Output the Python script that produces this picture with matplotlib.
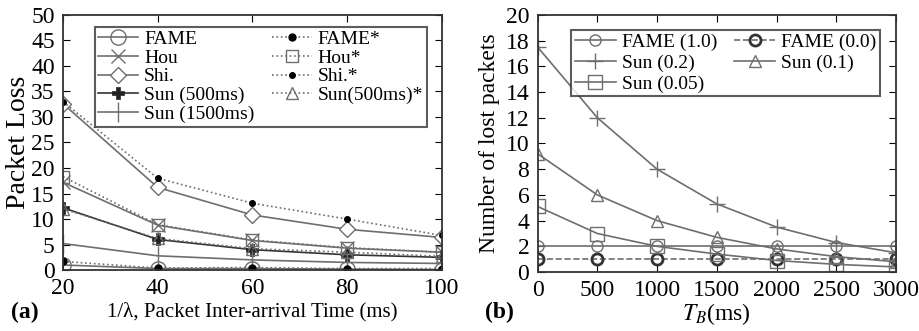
import numpy as np
import matplotlib.pyplot as plt

plt.rcParams['font.family'] = ['Liberation Serif', 'DejaVu Serif']
plt.rcParams['mathtext.fontset'] = 'stix'

# panel (a): packet loss vs inter-arrival time
x_a = [20, 40, 60, 80, 100]
fame = [1.0, 0.3, 0.3, 0.2, 0.1]
hou = [17.2, 8.8, 5.8, 4.3, 3.5]
shi = [32.6, 16.2, 10.8, 8.0, 6.4]
sun500 = [12.2, 6.0, 4.0, 3.0, 2.5]
sun1500 = [5.2, 2.8, 2.0, 1.5, 1.3]
fame_s = [1.7, 0.4, 0.5, 0.3, 0.3]
hou_s = [18.3, 8.9, 5.9, 4.4, 3.5]
shi_s = [33.0, 18.0, 13.1, 10.0, 6.8]
sun500_s = [12.0, 6.2, 4.2, 3.5, 2.7]

# panel (b): lost packets vs T_B
x_b = [0, 500, 1000, 1500, 2000, 2500, 3000]
fame10 = [2, 2, 2, 2, 2, 2, 2]
fame00 = [1, 1, 1, 1, 1, 1, 1]
sun02 = [17.5, 12.0, 8.0, 5.3, 3.5, 2.3, 1.5]
sun01 = [9.2, 6.0, 4.0, 2.7, 1.8, 1.2, 0.8]
sun005 = [5.1, 3.0, 2.0, 1.4, 0.9, 0.6, 0.4]

c = '#6e6e6e'
fig = plt.figure(figsize=(9.19, 3.31), dpi=100)
ax1 = fig.add_axes([0.0686, 0.184, 0.412, 0.771])
ax2 = fig.add_axes([0.585, 0.178, 0.390, 0.777])

lw = 1.2
ax1.plot(x_a, fame, color=c, lw=lw, marker='o', ms=11, mfc='none', mec=c, label='FAME')
ax1.plot(x_a, hou, color=c, lw=lw, marker='x', ms=10, mec=c, label='Hou')
ax1.plot(x_a, shi, color=c, lw=lw, marker='D', ms=8, mfc='white', mec=c, label='Shi.')
ax1.plot(x_a, sun500, color='#333333', lw=lw, marker='P', ms=9, mfc='#222222', mec='#222222', mew=0.5, label='Sun (500ms)')
ax1.plot(x_a, sun1500, color=c, lw=lw, marker='|', ms=14, mec=c, label='Sun (1500ms)')
ax1.plot(x_a, fame_s, color=c, lw=lw, ls=':', marker='o', ms=5, mfc='black', mec='black', label='FAME*')
ax1.plot(x_a, hou_s, color=c, lw=lw, ls=':', marker='s', ms=8, mfc='none', mec=c, label='Hou*')
ax1.plot(x_a, shi_s, color=c, lw=lw, ls=':', marker='o', ms=4, mfc='black', mec='black', label='Shi.*')
ax1.plot(x_a, sun500_s, color=c, lw=lw, ls=':', marker='^', ms=8, mfc='none', mec=c, label='Sun(500ms)*')

ax1.set_xlim(20, 100)
ax1.set_ylim(0, 50)
ax1.set_xticks(x_a)
ax1.set_yticks(range(0, 51, 5))
ax1.set_ylabel('Packet Loss', fontsize=20, labelpad=0)
ax1.set_xlabel('1/λ, Packet Inter-arrival Time (ms)', fontsize=15, labelpad=2)
ax1.legend(ncol=2, loc='upper right', fontsize=14, frameon=True, fancybox=False,
           edgecolor='#333333', handlelength=2.05, handletextpad=0.3, labelspacing=0.05,
           columnspacing=0.9, borderpad=0.2, bbox_to_anchor=(0.987, 0.992))

ax2.plot(x_b, fame10, color=c, lw=lw, marker='o', ms=8, mfc='none', mec=c, label='FAME (1.0)')
ax2.plot(x_b, fame00, color=c, lw=lw, ls='--', marker='o', ms=8, mfc='none', mec='#333333', mew=2, label='FAME (0.0)')
ax2.plot(x_b, sun02, color=c, lw=lw, marker='+', ms=12, mec=c, label='Sun (0.2)')
ax2.plot(x_b, sun01, color=c, lw=lw, marker='^', ms=8, mfc='none', mec=c, label='Sun (0.1)')
ax2.plot(x_b, sun005, color=c, lw=lw, marker='s', ms=10, mfc='none', mec=c, label='Sun (0.05)')

ax2.set_xlim(0, 3000)
ax2.set_ylim(0, 20)
ax2.set_xticks(x_b)
ax2.set_yticks(range(0, 21, 2))
ax2.set_ylabel('Number of lost packets', fontsize=17)
ax2.set_xlabel('$T_B$(ms)', fontsize=17, labelpad=0)
h, l = ax2.get_legend_handles_labels()
order = [0, 2, 4, 1, 3]
ax2.legend([h[i] for i in order], [l[i] for i in order], ncol=2, loc='upper right',
           fontsize=14, frameon=True, fancybox=False,
           edgecolor='#333333', handlelength=2.1, handletextpad=0.3, labelspacing=0.15,
           columnspacing=0.9, borderpad=0.2, bbox_to_anchor=(0.983, 0.98))

for ax in (ax1, ax2):
    ax.tick_params(direction='in', top=True, right=True, labelsize=17, length=5)
    ax.tick_params(axis='x', pad=6)
    ax.tick_params(axis='y', pad=6)
    for s in ax.spines.values():
        s.set_color('#333333')
        s.set_linewidth(1.3)
    leg = ax.get_legend()
    leg.get_frame().set_linewidth(1.5)

fig.text(0.012, 0.04, '(a)', fontsize=17, fontweight='bold')
fig.text(0.528, 0.04, '(b)', fontsize=17, fontweight='bold')

fig.savefig('out.png', dpi=100)
